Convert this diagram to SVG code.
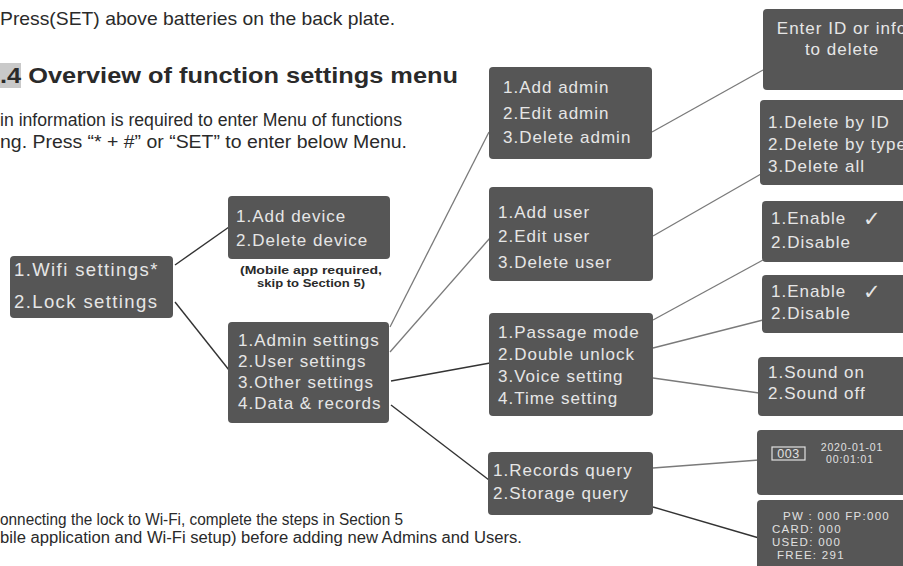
<svg xmlns="http://www.w3.org/2000/svg" width="903" height="566" viewBox="0 0 903 566">
<style>
.bg{fill:#ffffff}
.box{fill:#565656}
.bt{font-family:"Liberation Sans",Arial,sans-serif;font-size:17px;letter-spacing:1px;fill:#e6e6e6}
.big{font-size:18.5px;letter-spacing:1.4px}
.body{font-family:"Liberation Sans",Arial,sans-serif;fill:#2a2a2a}
.cap{font-family:"Liberation Sans",Arial,sans-serif;font-weight:bold;font-size:11px;fill:#2a2a2a;text-anchor:middle}
.sm{font-family:"Liberation Sans",Arial,sans-serif;fill:#e0e0e0}
.chk{font-family:"DejaVu Sans",sans-serif;font-size:21px;fill:#e6e6e6}
.dk{stroke:#333;stroke-width:1.4;fill:none}
.lt{stroke:#7a7a7a;stroke-width:1.3;fill:none}
</style>
<rect class="bg" x="0" y="0" width="903" height="566"/>

<g id="intro">
<text class="body" x="0" y="25" font-size="19" textLength="395" lengthAdjust="spacingAndGlyphs">Press(SET) above batteries on the back plate.</text>
<rect x="0" y="63" width="21" height="25" fill="#c9c9c9"/>
<text class="body" x="0" y="83" font-size="22" font-weight="bold" font-family="'Open Sans','Noto Sans',sans-serif" textLength="458" lengthAdjust="spacingAndGlyphs">.4 Overview of function settings menu</text>
<text class="body" x="0" y="126" font-size="17.5" textLength="402" lengthAdjust="spacingAndGlyphs">in information is required to enter Menu of functions</text>
<text class="body" x="0" y="148" font-size="17.5" textLength="407" lengthAdjust="spacingAndGlyphs">ng. Press “* + #”  or “SET” to enter below Menu.</text>
</g>

<g id="footer">
<text class="body" x="0" y="525" font-size="16" textLength="403" lengthAdjust="spacingAndGlyphs">onnecting the lock to Wi-Fi, complete the steps in Section 5</text>
<text class="body" x="0" y="543" font-size="16" textLength="522" lengthAdjust="spacingAndGlyphs">bile application and Wi-Fi setup) before adding new Admins and Users.</text>
</g>

<g id="connectors">
<line class="dk" x1="175" y1="265" x2="229" y2="227"/>
<line class="dk" x1="175" y1="302" x2="229" y2="370"/>
<line class="lt" x1="390" y1="327" x2="489" y2="132"/>
<line class="lt" x1="390" y1="352" x2="490" y2="238"/>
<line class="dk" x1="391" y1="381" x2="490" y2="363"/>
<line class="dk" x1="391" y1="405" x2="489" y2="480"/>
<line class="lt" x1="652" y1="132" x2="763" y2="70"/>
<line class="lt" x1="653" y1="236" x2="761" y2="174"/>
<line class="lt" x1="653" y1="320" x2="763" y2="260"/>
<line class="lt" x1="653" y1="348" x2="763" y2="320"/>
<line class="lt" x1="653" y1="378" x2="759" y2="393"/>
<line class="lt" x1="653" y1="468" x2="759" y2="460"/>
<line class="dk" x1="653" y1="507" x2="759" y2="538"/>
</g>

<g id="n-root">
<rect class="box" x="10" y="256" width="163" height="62" rx="4"/>
<text class="bt big" x="14" y="276">1.Wifi settings*</text>
<text class="bt big" x="14" y="308">2.Lock settings</text>
</g>

<g id="n-wifi">
<rect class="box" x="228" y="196" width="162" height="63" rx="4"/>
<text class="bt" x="236" y="222">1.Add device</text>
<text class="bt" x="236" y="246">2.Delete device</text>
<text class="cap" x="311" y="274" textLength="142" lengthAdjust="spacingAndGlyphs">(Mobile app required,</text>
<text class="cap" x="311" y="287" textLength="108" lengthAdjust="spacingAndGlyphs">skip to Section 5)</text>
</g>

<g id="n-lock">
<rect class="box" x="228" y="322" width="161" height="101" rx="4"/>
<text class="bt" x="238" y="346">1.Admin settings</text>
<text class="bt" x="238" y="367">2.User settings</text>
<text class="bt" x="238" y="388">3.Other settings</text>
<text class="bt" x="238" y="409">4.Data &amp; records</text>
</g>

<g id="n-admin">
<rect class="box" x="489" y="67" width="163" height="92" rx="4"/>
<text class="bt" x="503" y="93">1.Add admin</text>
<text class="bt" x="503" y="119">2.Edit admin</text>
<text class="bt" x="503" y="143">3.Delete admin</text>
</g>

<g id="n-user">
<rect class="box" x="489" y="187" width="164" height="94" rx="4"/>
<text class="bt" x="498" y="218">1.Add user</text>
<text class="bt" x="498" y="242">2.Edit user</text>
<text class="bt" x="498" y="268">3.Delete user</text>
</g>

<g id="n-other">
<rect class="box" x="489" y="313" width="164" height="103" rx="4"/>
<text class="bt" x="498" y="338">1.Passage mode</text>
<text class="bt" x="498" y="360">2.Double unlock</text>
<text class="bt" x="498" y="382">3.Voice setting</text>
<text class="bt" x="498" y="404">4.Time setting</text>
</g>

<g id="n-data">
<rect class="box" x="488" y="452" width="165" height="63" rx="4"/>
<text class="bt" x="493" y="476">1.Records query</text>
<text class="bt" x="493" y="499">2.Storage query</text>
</g>

<g id="n-enterid">
<rect class="box" x="763" y="9" width="200" height="81" rx="4"/>
<text class="bt" x="842" y="34" text-anchor="middle">Enter ID or info</text>
<text class="bt" x="842" y="55" text-anchor="middle">to delete</text>
</g>

<g id="n-delete">
<rect class="box" x="760" y="100" width="200" height="85" rx="4"/>
<text class="bt" x="768" y="128">1.Delete by ID</text>
<text class="bt" x="768" y="150">2.Delete by type</text>
<text class="bt" x="768" y="172">3.Delete all</text>
</g>

<g id="n-passage">
<rect class="box" x="762" y="201" width="200" height="61" rx="4"/>
<text class="bt" x="771" y="224">1.Enable</text>
<text class="chk" x="863" y="226">✓</text>
<text class="bt" x="771" y="248">2.Disable</text>
</g>

<g id="n-double">
<rect class="box" x="762" y="275" width="200" height="58" rx="4"/>
<text class="bt" x="771" y="297">1.Enable</text>
<text class="chk" x="863" y="299">✓</text>
<text class="bt" x="771" y="319">2.Disable</text>
</g>

<g id="n-voice">
<rect class="box" x="758" y="357" width="200" height="59" rx="4"/>
<text class="bt" x="768" y="378">1.Sound on</text>
<text class="bt" x="768" y="399">2.Sound off</text>
</g>

<g id="n-records">
<rect class="box" x="757" y="430" width="200" height="65" rx="4"/>
<rect x="772" y="447" width="33" height="13" fill="none" stroke="#e0e0e0" stroke-width="1.2"/>
<text class="sm" x="788.5" y="458" font-size="12.5" text-anchor="middle" letter-spacing="0.5">003</text>
<text class="sm" x="852" y="451" font-size="10.5" text-anchor="middle" letter-spacing="0.9">2020-01-01</text>
<text class="sm" x="850" y="463" font-size="10.5" text-anchor="middle" letter-spacing="0.9">00:01:01</text>
</g>

<g id="n-storage">
<rect class="box" x="757" y="500" width="200" height="80" rx="4"/>
<text class="sm" x="783" y="520" font-size="11.5" letter-spacing="1.3">PW : 000 FP:000</text>
<text class="sm" x="772" y="533" font-size="11.5" letter-spacing="1.3">CARD: 000</text>
<text class="sm" x="772" y="546" font-size="11.5" letter-spacing="1.3">USED: 000</text>
<text class="sm" x="777" y="559" font-size="11.5" letter-spacing="1.3">FREE: 291</text>
</g>
</svg>
